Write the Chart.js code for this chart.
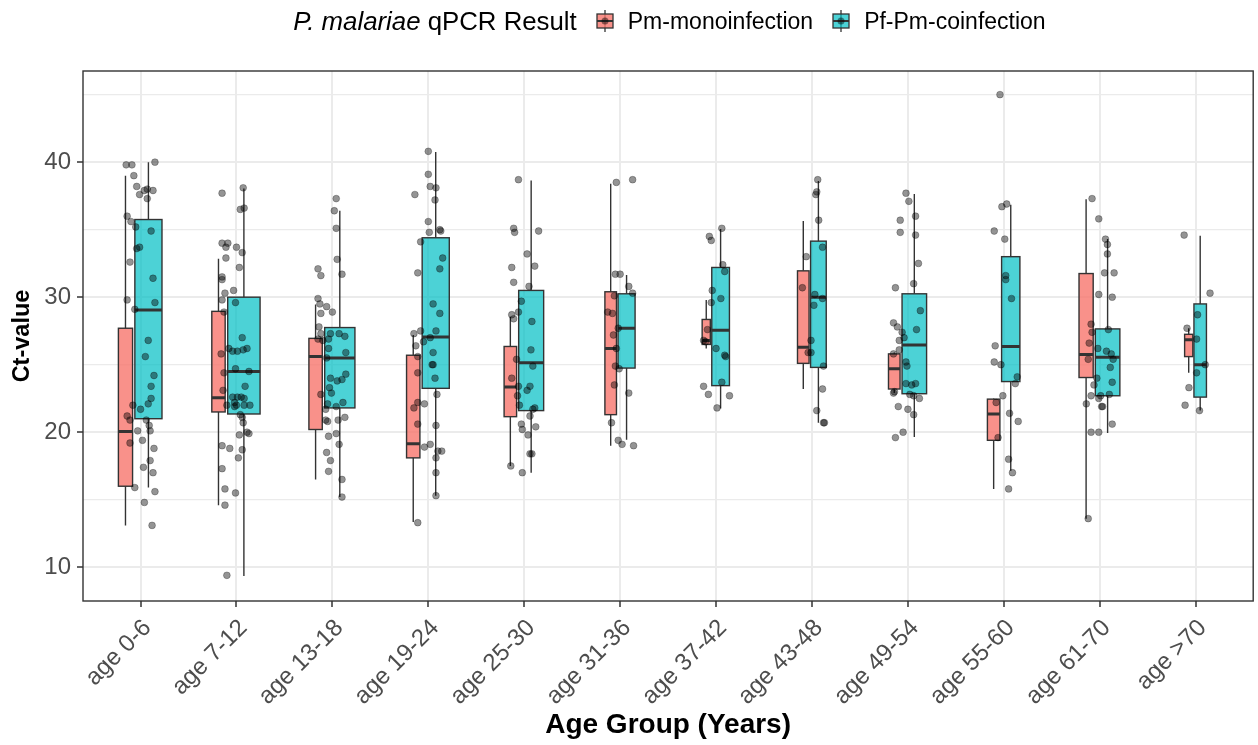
<!DOCTYPE html>
<html lang="en">
<head>
<meta charset="UTF-8">
<title>Ct-value by age group</title>
<script src="https://cdn.jsdelivr.net/npm/chart.js@4.4.0/dist/chart.umd.min.js"></script>
<style>
  * { box-sizing: border-box; margin: 0; padding: 0; }
  body { width: 1258px; height: 745px; background: #fff; font-family: 'Liberation Sans', Arial, sans-serif; position: relative; overflow: hidden; }
  #chart { position: absolute; left: 0; top: 0; }
  #legend { position: absolute; left: 83px; width: 1173px; top: 1px; height: 40px; display: flex; justify-content: center; align-items: center; color: #000; white-space: nowrap; }
  #legend .ltitle { font-size: 25.8px; margin-right: 18px; }
  #legend .ltext { font-size: 23px; margin-right: 18px; }
  #legend .ltext:last-child { margin-right: 0; }
  #legend svg { margin-right: 13px; display: block; }
</style>
</head>
<body>
<canvas id="chart" width="1258" height="745"></canvas>
<div id="legend">
  <span class="ltitle"><i>P. malariae</i> qPCR Result</span>
  <svg width="20" height="22"><line x1="10" y1="0" x2="10" y2="22" stroke="#333" stroke-width="1.3"/><rect x="2" y="4" width="16" height="14" fill="rgba(248,118,109,0.8)" stroke="#333" stroke-width="1.3"/><line x1="2" y1="11" x2="18" y2="11" stroke="#333" stroke-width="2"/><circle cx="10" cy="11" r="3.5" fill="rgba(0,0,0,0.45)"/></svg>
  <span class="ltext">Pm-monoinfection</span>
  <svg width="20" height="22"><line x1="10" y1="0" x2="10" y2="22" stroke="#333" stroke-width="1.3"/><rect x="2" y="4" width="16" height="14" fill="rgba(0,191,196,0.7)" stroke="#333" stroke-width="1.3"/><line x1="2" y1="11" x2="18" y2="11" stroke="#333" stroke-width="2"/><circle cx="10" cy="11" r="3.5" fill="rgba(0,0,0,0.45)"/></svg>
  <span class="ltext">Pf-Pm-coinfection</span>
</div>
<script>
const ageGroups = ['age 0-6', 'age 7-12', 'age 13-18', 'age 19-24', 'age 25-30', 'age 31-36',
  'age 37-42', 'age 43-48', 'age 49-54', 'age 55-60', 'age 61-70', 'age >70'];
const yTicks = [10, 15, 20, 25, 30, 35, 40, 45];

// box stats: Pm-monoinfection
const monoN   = [9, 8, 8, 8, 7, 6, 3, 6, 6, 7, 9, 3];
const monoLo  = [13.1, 14.6, 16.5, 13.35, 17.5, 19.0, 26.2, 23.2, 22.9, 15.8, 13.6, 24.4];
const monoQ1  = [16.0, 21.5, 20.2, 18.1, 21.15, 21.3, 26.5, 25.1, 23.2, 19.4, 24.05, 25.6];
const monoMed = [20.05, 22.55, 25.6, 19.15, 23.35, 26.2, 26.8, 26.3, 24.7, 21.35, 25.75, 26.85];
const monoQ3  = [27.7, 28.95, 26.95, 25.7, 26.35, 30.4, 28.35, 31.95, 25.8, 22.45, 31.75, 27.25];
const monoHi  = [39.0, 32.85, 29.45, 27.2, 28.55, 38.4, 29.8, 35.65, 25.9, 22.5, 37.25, 27.7];

// box stats: Pf-Pm-coinfection
const coN   = [33, 47, 41, 33, 28, 13, 14, 11, 27, 15, 27, 7];
const coLo  = [15.9, 9.35, 15.2, 15.3, 17.0, 19.45, 21.75, 20.7, 19.65, 17.15, 19.95, 21.6];
const coQ1  = [21.0, 21.35, 21.8, 23.25, 21.6, 24.75, 23.45, 24.8, 22.85, 23.75, 22.7, 22.6];
const coMed = [29.05, 24.5, 25.5, 27.05, 25.15, 27.7, 27.55, 30.0, 26.45, 26.35, 25.55, 25.0];
const coQ3  = [35.75, 30.0, 27.75, 34.4, 30.5, 30.25, 32.2, 34.15, 30.25, 33.0, 27.65, 29.5];
const coHi  = [40.0, 38.05, 36.4, 40.75, 38.65, 31.65, 35.05, 38.6, 37.65, 36.85, 34.3, 34.55];

// jittered points: [offset from group centre, Ct]
const pts0_6 = [[-0.15,39.8],[-0.09,39.8],[0.15,40.0],[-0.07,39.0],[-0.04,38.2],[-0.01,37.6],[0.04,37.9],[0.07,38.0],[0.07,37.3],[0.13,37.9],[-0.14,36.0],[-0.10,35.6],[-0.05,35.2],[0.11,34.9],[-0.04,33.6],[-0.01,33.7],[-0.11,32.6],[0.13,31.4],[-0.14,29.8],[0.15,29.6],[-0.06,29.1],[0.08,26.8],[0.05,25.6],[0.14,24.2],[0.11,23.4],[0.11,22.5],[0.08,22.1],[0.00,21.7],[-0.08,22.0],[-0.14,21.2],[-0.11,20.9],[0.06,20.9],[0.09,20.5],[0.10,20.1],[-0.03,20.1],[-0.11,19.2],[0.02,19.4],[0.14,18.8],[0.10,17.9],[0.03,17.4],[0.13,17.0],[-0.06,15.9],[0.15,15.6],[0.04,14.8],[0.12,13.1]];
const pts7_12 = [[-0.15,37.7],[0.07,38.1],[0.04,36.5],[0.08,36.6],[-0.15,34.0],[-0.09,34.0],[-0.11,33.7],[0.00,33.7],[0.06,33.3],[-0.11,32.9],[0.03,32.2],[-0.15,31.5],[-0.15,31.3],[-0.12,30.3],[-0.03,30.5],[-0.15,29.8],[-0.01,29.6],[-0.13,28.9],[0.06,27.0],[-0.08,26.2],[-0.04,26.0],[0.01,26.0],[0.07,26.1],[0.11,26.2],[-0.16,25.8],[-0.13,24.4],[-0.01,24.7],[0.13,24.5],[0.09,23.4],[-0.14,23.1],[-0.04,22.6],[0.01,22.6],[0.05,22.6],[0.08,22.5],[-0.02,22.2],[-0.10,22.0],[0.00,22.0],[0.14,22.0],[0.08,22.0],[-0.02,21.9],[0.04,21.3],[0.06,21.1],[0.07,20.7],[0.11,20.0],[0.13,19.9],[0.03,19.8],[-0.15,19.0],[-0.07,18.8],[0.06,18.7],[0.02,18.1],[-0.15,17.3],[-0.12,15.8],[-0.01,15.5],[-0.12,14.6],[-0.10,9.4]];
const pts13_18 = [[0.04,37.3],[0.02,36.4],[0.04,35.1],[0.05,32.8],[-0.15,32.1],[-0.12,31.6],[0.10,31.7],[-0.15,29.9],[-0.13,29.5],[-0.06,29.3],[-0.12,28.8],[0.00,28.9],[-0.14,27.8],[-0.12,27.3],[-0.02,27.3],[0.07,27.3],[0.13,27.1],[-0.04,26.9],[-0.15,26.9],[-0.10,26.8],[-0.04,26.2],[0.14,25.9],[-0.06,25.5],[0.14,24.3],[-0.02,24.0],[0.10,23.9],[0.05,23.8],[-0.03,23.3],[-0.01,22.9],[-0.12,22.8],[0.11,22.2],[-0.05,22.1],[0.04,21.9],[-0.07,21.7],[-0.07,20.9],[-0.05,20.8],[0.13,21.1],[0.06,20.9],[-0.04,19.7],[0.04,19.9],[0.07,19.1],[-0.06,18.5],[-0.02,17.9],[-0.04,17.1],[0.10,16.5],[0.10,15.2]];
const pts19_24 = [[0.00,40.8],[0.00,39.1],[0.02,38.2],[0.08,38.1],[0.07,37.2],[-0.14,37.6],[0.00,35.6],[0.01,34.8],[0.12,35.0],[0.13,34.9],[-0.08,34.1],[0.15,32.9],[0.12,32.1],[-0.11,31.8],[0.05,29.5],[0.12,28.8],[0.08,27.5],[-0.15,27.3],[-0.08,27.5],[0.02,27.0],[-0.05,26.7],[-0.13,26.4],[-0.11,25.6],[0.05,25.9],[0.04,25.0],[0.05,25.0],[-0.11,24.4],[0.07,24.0],[0.09,22.8],[-0.04,22.1],[-0.11,22.2],[-0.15,21.8],[-0.11,20.6],[0.08,20.5],[0.02,19.1],[-0.04,18.9],[0.10,18.6],[0.14,18.6],[0.08,18.1],[0.08,17.0],[0.08,15.3],[-0.11,13.3]];
const pts25_30 = [[-0.06,38.7],[-0.11,35.1],[-0.10,34.8],[0.15,34.9],[0.03,33.2],[0.11,32.3],[-0.13,32.2],[-0.11,31.1],[0.05,30.8],[-0.03,29.7],[-0.06,28.9],[-0.13,28.7],[-0.11,28.4],[0.08,28.2],[-0.08,25.4],[0.07,26.1],[0.09,24.9],[-0.13,24.0],[-0.06,23.4],[0.06,23.4],[0.03,23.1],[-0.07,22.7],[-0.05,22.0],[0.11,21.8],[0.09,21.7],[0.06,21.2],[-0.03,20.6],[-0.02,20.2],[0.12,20.4],[0.04,19.8],[0.08,18.4],[0.06,18.4],[-0.14,17.5],[-0.02,17.0]];
const pts31_36 = [[-0.04,38.5],[0.13,38.7],[-0.05,31.7],[0.00,31.7],[0.09,30.8],[0.13,30.3],[-0.06,30.1],[-0.13,28.9],[-0.08,28.8],[-0.07,27.2],[-0.02,27.7],[-0.04,26.2],[-0.01,24.7],[-0.05,24.9],[-0.06,23.5],[0.09,22.9],[-0.09,20.7],[-0.02,19.4],[0.02,19.1],[0.14,19.0]];
const pts37_42 = [[-0.07,34.5],[-0.05,34.2],[0.06,35.1],[0.07,32.4],[0.09,31.9],[-0.04,30.5],[0.05,29.9],[-0.05,29.6],[-0.09,27.6],[-0.13,26.8],[-0.11,26.7],[0.00,26.2],[0.09,25.7],[0.10,25.6],[0.06,23.7],[-0.13,23.4],[-0.08,22.8],[0.14,22.7],[0.01,21.8]];
const pts43_48 = [[0.06,38.7],[0.05,37.8],[0.04,37.6],[0.07,35.7],[0.11,33.7],[-0.06,33.0],[-0.10,30.7],[0.03,30.2],[0.11,29.9],[0.02,29.4],[-0.01,26.8],[-0.04,25.9],[-0.01,25.9],[0.12,24.9],[0.11,23.2],[0.05,21.6],[0.12,20.7],[0.13,20.7]];
const pts49_54 = [[-0.02,37.7],[0.01,37.1],[-0.08,35.7],[0.08,36.0],[-0.08,34.8],[0.08,34.6],[0.11,32.5],[0.06,31.0],[-0.13,30.7],[0.13,29.0],[-0.15,28.1],[-0.11,27.8],[0.09,27.6],[-0.06,27.4],[-0.09,26.8],[-0.04,27.0],[-0.09,26.1],[-0.15,25.8],[-0.02,25.2],[-0.01,24.9],[-0.14,23.0],[-0.15,22.9],[-0.02,23.6],[0.04,23.5],[0.08,23.6],[0.02,22.8],[0.06,22.7],[0.12,22.5],[-0.10,21.9],[0.00,21.7],[0.06,21.3],[-0.05,20.0],[-0.13,19.6]];
const pts55_60 = [[-0.04,45.0],[-0.02,36.7],[0.03,36.9],[-0.10,34.9],[0.01,34.3],[0.02,31.6],[0.02,31.3],[0.08,29.9],[-0.09,26.4],[-0.10,25.2],[-0.03,25.0],[0.14,24.1],[0.12,23.6],[-0.01,22.7],[-0.08,22.2],[0.06,21.4],[0.15,20.8],[-0.06,19.6],[0.05,18.0],[0.09,17.0],[0.05,15.8]];
const pts61_70 = [[-0.08,37.3],[-0.01,35.8],[0.06,34.3],[0.08,33.9],[0.08,33.2],[0.05,31.8],[0.15,31.8],[-0.01,30.2],[0.13,30.0],[-0.09,28.0],[-0.08,27.4],[0.09,27.6],[-0.11,26.6],[-0.02,26.2],[0.07,26.0],[0.12,25.8],[-0.12,25.4],[0.14,25.4],[0.11,24.8],[-0.03,24.0],[0.13,23.7],[-0.06,23.5],[-0.09,22.7],[-0.01,22.5],[0.01,22.7],[0.10,22.8],[-0.14,22.1],[0.02,21.9],[0.03,21.9],[0.13,20.6],[-0.09,20.0],[-0.01,20.0],[-0.12,13.6]];
const pts70plus = [[-0.12,34.6],[0.15,30.3],[0.02,28.7],[-0.09,27.7],[0.01,26.9],[0.10,25.0],[0.01,24.4],[-0.07,23.3],[-0.11,22.0],[0.04,21.6]];

const pointGroups = [pts0_6, pts7_12, pts13_18, pts19_24, pts25_30, pts31_36,
  pts37_42, pts43_48, pts49_54, pts55_60, pts61_70, pts70plus];

const FONT = "'Liberation Sans', Arial, sans-serif";
const INK = '#333333';

const boxGroups = [
  { n: monoN, lo: monoLo, q1: monoQ1, med: monoMed, q3: monoQ3, hi: monoHi, fill: 'rgba(248,118,109,0.8)' },
  { n: coN, lo: coLo, q1: coQ1, med: coMed, q3: coQ3, hi: coHi, fill: 'rgba(0,191,196,0.7)' },
];
const maxN = Math.max(...monoN, ...coN);

// boxplots (varwidth, dodged side by side) drawn under the points
const boxPlugin = {
  id: 'boxes',
  beforeDatasetsDraw(chart) {
    const { ctx, chartArea, scales: { x, y } } = chart;
    ctx.save();
    ctx.beginPath();
    ctx.rect(chartArea.left, chartArea.top, chartArea.width, chartArea.height);
    ctx.clip();
    ageGroups.forEach((_, i) => {
      const slots = boxGroups.map(g => 0.375 * Math.sqrt(g.n[i] / maxN));
      let left = i + 1 - (slots[0] + slots[1]) / 2;
      boxGroups.forEach((g, k) => {
        const c = left + slots[k] / 2;
        left += slots[k];
        const xc = x.getPixelForValue(c);
        const x0 = x.getPixelForValue(c - slots[k] * 0.45);
        const x1 = x.getPixelForValue(c + slots[k] * 0.45);
        const yLo = y.getPixelForValue(g.lo[i]), yQ1 = y.getPixelForValue(g.q1[i]);
        const yMed = y.getPixelForValue(g.med[i]), yQ3 = y.getPixelForValue(g.q3[i]);
        const yHi = y.getPixelForValue(g.hi[i]);
        ctx.strokeStyle = INK;
        ctx.lineWidth = 1.4;
        ctx.beginPath();
        ctx.moveTo(xc, yHi); ctx.lineTo(xc, yQ3);
        ctx.moveTo(xc, yQ1); ctx.lineTo(xc, yLo);
        ctx.stroke();
        ctx.fillStyle = g.fill;
        ctx.fillRect(x0, yQ3, x1 - x0, yQ1 - yQ3);
        ctx.strokeRect(x0, yQ3, x1 - x0, yQ1 - yQ3);
        ctx.lineWidth = 3;
        ctx.beginPath();
        ctx.moveTo(x0, yMed); ctx.lineTo(x1, yMed);
        ctx.stroke();
      });
    });
    ctx.restore();
  },
  afterDraw(chart) {
    const { ctx, chartArea: a } = chart;
    ctx.save();
    ctx.strokeStyle = INK;
    ctx.lineWidth = 1.4;
    ctx.strokeRect(a.left, a.top, a.width, a.height);
    ctx.restore();
  }
};

const points = pointGroups.flatMap((pts, i) => pts.map(([dx, ct]) => ({ x: i + 1 + dx, y: ct })));

new Chart(document.getElementById('chart'), {
  type: 'scatter',
  data: {
    datasets: [{
      label: 'Ct',
      data: points,
      pointRadius: 3.4,
      pointBorderWidth: 0.8,
      pointBackgroundColor: 'rgba(0,0,0,0.42)',
      pointBorderColor: 'rgba(0,0,0,0.35)',
    }]
  },
  options: {
    responsive: false,
    animation: false,
    devicePixelRatio: 1,
    layout: { padding: { top: 71, right: 2, left: 0, bottom: 0 } },
    plugins: { legend: { display: false }, tooltip: { enabled: false } },
    scales: {
      x: {
        type: 'linear',
        min: 0.4,
        max: 12.6,
        afterBuildTicks: s => { s.ticks = ageGroups.map((_, i) => ({ value: i + 1 })); },
        afterFit: s => { s.height = 144; },
        ticks: {
          autoSkip: false,
          minRotation: 45,
          maxRotation: 45,
          padding: 7,
          labelOffset: 7,
          color: '#4d4d4d',
          font: { family: FONT, size: 24 },
          callback: (v, i) => ageGroups[i],
        },
        grid: { color: '#ebebeb', lineWidth: 2, tickColor: INK, tickLength: 6, tickWidth: 1.5 },
        border: { display: false },
        title: { display: true, text: 'Age Group (Years)', color: '#000', font: { family: FONT, size: 28, weight: 'bold' }, padding: { top: 0, bottom: 3 } },
      },
      y: {
        min: 7.5,
        max: 46.75,
        afterBuildTicks: s => { s.ticks = yTicks.map(v => ({ value: v })); },
        afterFit: s => { s.width = 83; },
        ticks: {
          padding: 6,
          color: '#4d4d4d',
          font: { family: FONT, size: 24 },
          callback: v => (v % 10 === 0 ? v : ''),
        },
        grid: {
          color: '#ebebeb',
          lineWidth: c => (c.tick && c.tick.value % 10 === 0 ? 2 : 1.2),
          tickColor: c => (c.tick && c.tick.value % 10 === 0 ? INK : 'rgba(0,0,0,0)'),
          tickLength: 6,
          tickWidth: 1.5,
        },
        border: { display: false },
        title: { display: true, text: 'Ct-value', color: '#000', font: { family: FONT, size: 23.5, weight: 'bold' }, padding: { top: 8, bottom: 0 } },
      }
    }
  },
  plugins: [boxPlugin]
});
</script>
</body>
</html>
